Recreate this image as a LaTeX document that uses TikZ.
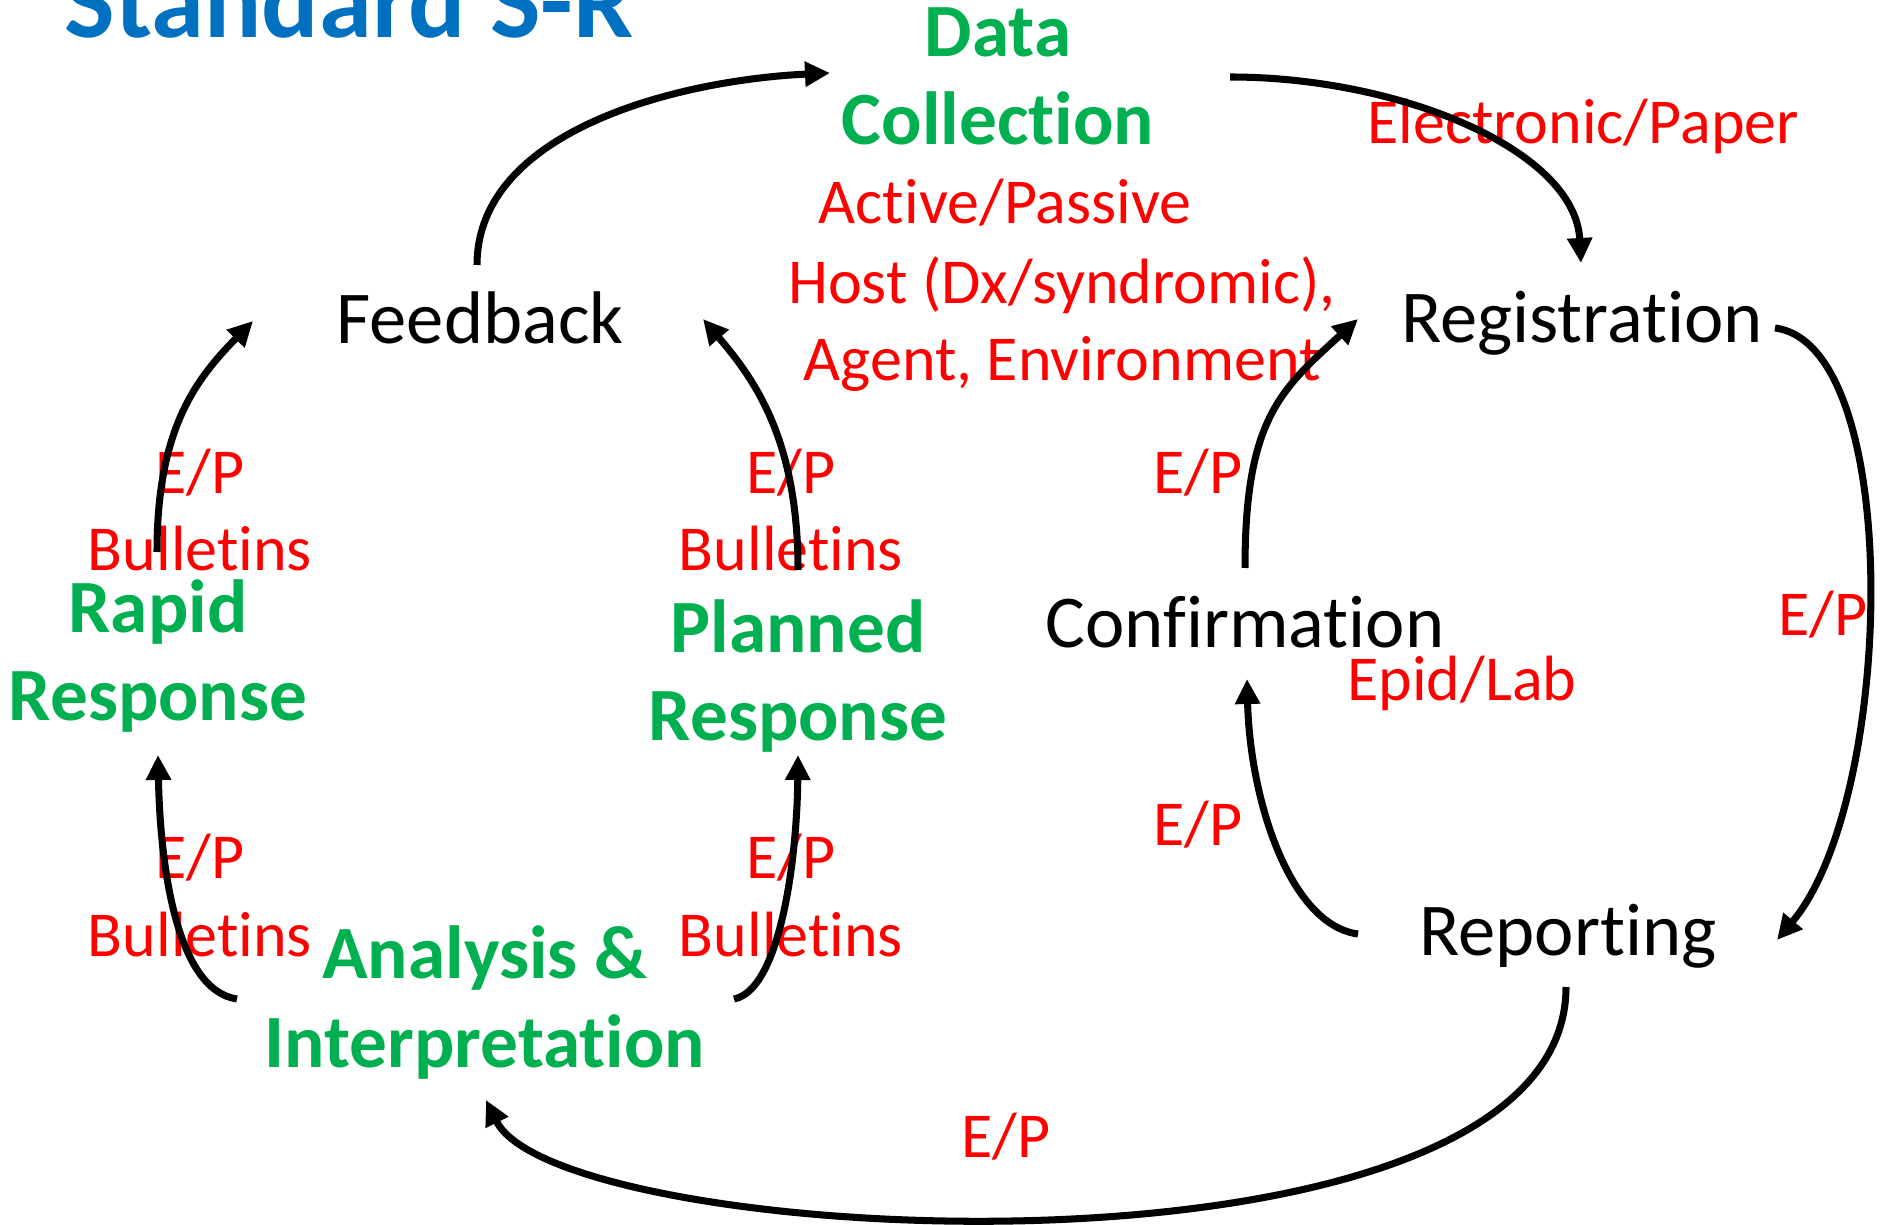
\documentclass[tikz,border=0pt]{standalone}
\usepackage{fontspec}
\setmainfont{Carlito}[Ligatures={NoCommon,NoContextual}]
\usetikzlibrary{arrows.meta}
\definecolor{srgreen}{RGB}{0,176,80}
\definecolor{srred}{RGB}{255,0,0}
\definecolor{srblue}{RGB}{0,112,192}
\tikzset{
  stage/.style={inner sep=0pt, anchor=base, font=\fontsize{21.2}{25.3}\selectfont},
  phase/.style={stage, align=center, text=srgreen, font=\fontsize{21.4}{25.3}\selectfont\bfseries},
  note/.style={inner sep=0pt, anchor=base, align=center, text=srred, font=\fontsize{18.2}{22}\selectfont},
  flow/.style={line width=2pt, -{Triangle[length=0.25cm,width=0.24cm]}},
}

\begin{document}
\begin{tikzpicture}[x=0.01cm, y=-0.01cm]
  \useasboundingbox (0,0) rectangle (1888,1225);

  \node[inner sep=0pt, anchor=base, text=srblue, font=\fontsize{30.4}{36}\selectfont\bfseries] (title) at (349,38) {Standard S-R}; %

  \node[phase] (data-coll) at (998,145) {Data\\Collection}; %
  \node[note]  (coll-mode) at (1005,224) {Active/Passive}; %
  \node[note]  (coll-type) at (1062,381) {Host (Dx/syndromic),\\Agent, Environment}; %
  \node[note]  (e-paper)   at (1583,144) {Electronic/Paper}; %

  \node[stage] (feedback)     at (480,344)  {Feedback}; %
  \node[stage] (registration) at (1582,343) {Registration}; %
  \node[stage] (confirm)      at (1245,648) {Confirmation}; %
  \node[stage] (reporting)    at (1568,955) {Reporting}; %
  \node[note]  (epid-lab)     at (1462,701) {Epid/Lab}; %

  \node[phase] (rapid-resp)   at (158,721)  {Rapid\\Response}; %
  \node[phase] (planned-resp) at (798,741)  {Planned\\Response}; %
  \node[phase] (analysis)     at (485,1067) {Analysis \&\\Interpretation}; %

  \node[note] (ep-rapid-fb)    at (200,571) {E/P\\Bulletins};
  \node[note] (ep-planned-fb)  at (791,571) {E/P\\Bulletins};
  \node[note] (ep-ana-rapid)   at (200,956) {E/P\\Bulletins};
  \node[note] (ep-ana-planned) at (791,956) {E/P\\Bulletins};
  \node[note] (ep-conf-reg)    at (1198,494)  {E/P};
  \node[note] (ep-reg-rep)     at (1823,636)  {E/P};
  \node[note] (ep-rep-conf)    at (1198,845)  {E/P};
  \node[note] (ep-rep-ana)     at (1006,1157) {E/P};

  % outer loop
  \draw[flow] ([shift={(-3,-79)}]feedback.base) .. controls +(0,-135) and +(-150,7) .. ([shift={(-168,-72)}]data-coll.base);
  \draw[flow] ([shift={(232,-68)}]data-coll.base) .. controls +(170,0) and +(-6,-113) .. ([shift={(-1,-80)}]registration.base);
  \draw[flow] ([shift={(193,-15)}]registration.base) .. controls +(130,17) and +(118,-140) .. ([shift={(209,-15)}]reporting.base);
  \draw[flow] ([shift={(-2,32)}]reporting.base) .. controls +(0,313) and +(74,150) .. ([shift={(1,33)}]analysis.base);

  % inner loops
  \draw[flow] ([shift={(-210,-21)}]reporting.base) .. controls +(-68,-9) and +(3,121) .. ([shift={(2,31)}]confirm.base);
  \draw[flow] ([shift={(0,-80)}]confirm.base) .. controls +(0,-148) and +(-78,71) .. ([shift={(-224,-24)}]registration.base);
  \draw[flow] ([shift={(-248,-68)}]analysis.base) .. controls +(-62,-9) and +(2,105) .. ([shift={(0,34)}]rapid-resp.base);
  \draw[flow] ([shift={(249,-68)}]analysis.base) .. controls +(46,-9) and +(-1,105) .. ([shift={(0,14)}]planned-resp.base);
  \draw[flow] ([shift={(-1,-169)}]rapid-resp.base) .. controls +(0,-122) and +(-58,59) .. ([shift={(-227,-23)}]feedback.base);
  \draw[flow] ([shift={(0,-171)}]planned-resp.base) .. controls +(0,-130) and +(52,61) .. ([shift={(223,-25)}]feedback.base);

\end{tikzpicture}
\end{document}
